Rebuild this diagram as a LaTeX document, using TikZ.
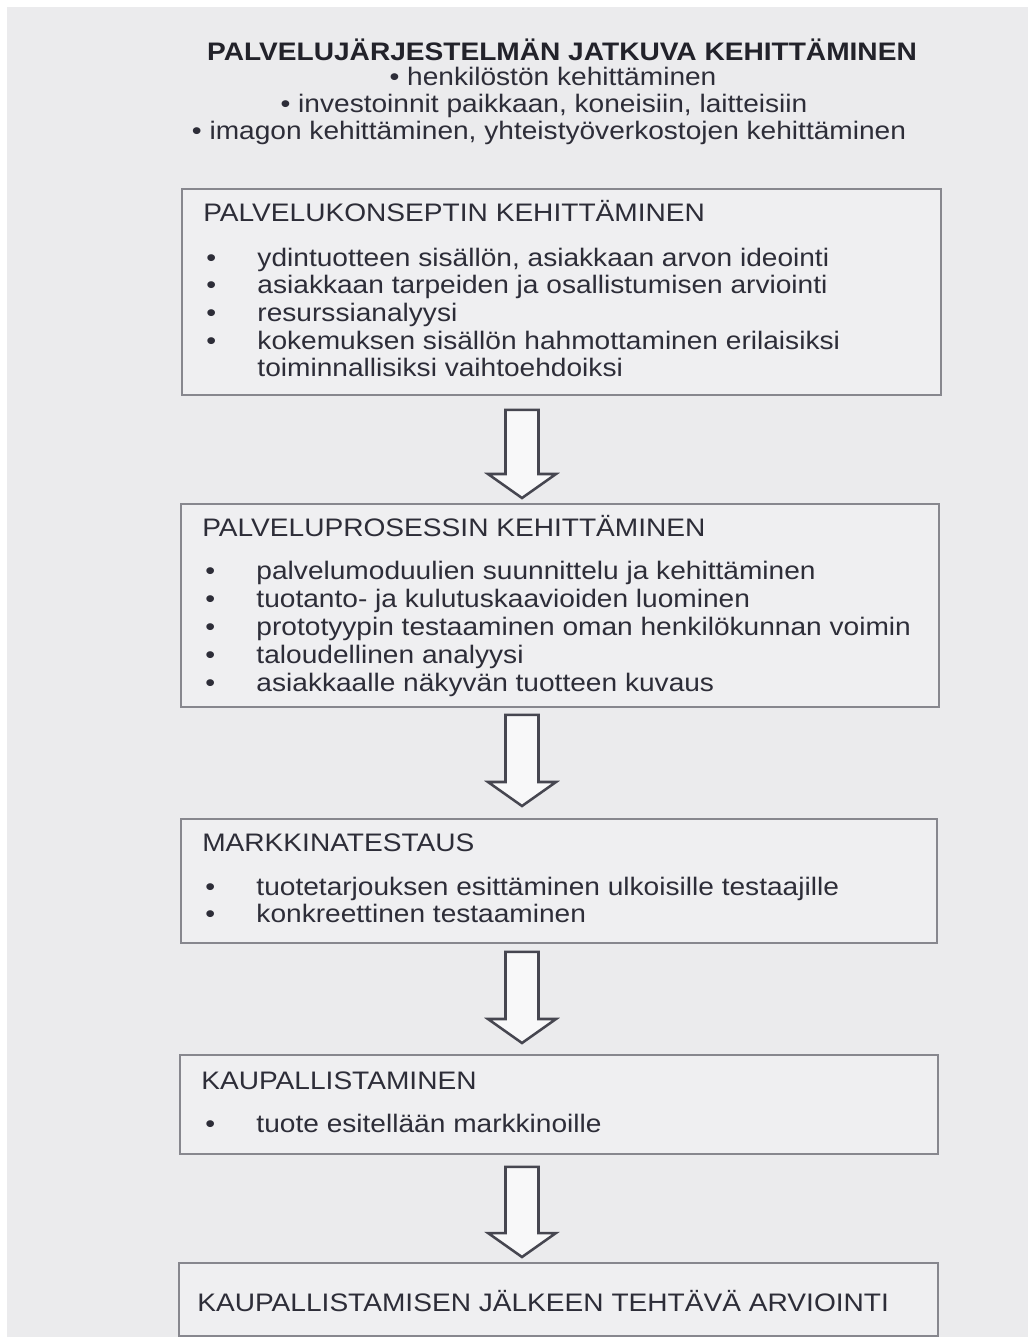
\documentclass[tikz,border=0pt]{standalone}
\usepackage{fontspec}
\setmainfont{Liberation Sans}[FakeStretch=1.11]
\usetikzlibrary{calc}
\definecolor{paper}{RGB}{235,235,237}
\definecolor{ink}{RGB}{45,45,56}
\definecolor{headink}{RGB}{34,34,42}
\definecolor{frame}{RGB}{135,135,142}
\definecolor{arrowink}{RGB}{70,70,80}
\def\px{0.025cm}
\newcommand\blt{\makebox[1.28cm][l]{\textbullet}}
\newcommand\nblt{\hspace*{1.28cm}}

\begin{document}
\begin{tikzpicture}[x=\px, y=-\px, font=\fontsize{18}{21}\selectfont, text=ink,
  stagebox/.style={draw=frame, line width=1.3pt, fill=paper!80!white, inner sep=0pt, anchor=north west},
  stagetitle/.style={anchor=base west, inner sep=0pt},
  stageitem/.style={anchor=base west, inner sep=0pt},
  headline/.style={anchor=base, inner sep=0pt},
  hollowarrow/.style={draw=arrowink, line width=1.8pt, fill=paper!35!white, line join=miter}]
\useasboundingbox (0,0) rectangle (1028,1337);
\fill[white] (0,0) rectangle (1028,1337);
\fill[paper] (7,7) rectangle (1028,1337);

% heading above the boxes
\node[headline, font=\fontsize{18}{21}\selectfont\bfseries, text=headink] (system) at (562,60.5) {PALVELUJÄRJESTELMÄN JATKUVA KEHITTÄMINEN};
\node[headline] (system-1) at (553,85) {• henkilöstön kehittäminen};
\node[headline] (system-2) at (544,112) {• investoinnit paikkaan, koneisiin, laitteisiin};
\node[headline] (system-3) at (549,139) {• imagon kehittäminen, yhteistyöverkostojen kehittäminen};

% stage boxes
\node[stagebox, minimum width=759*\px, minimum height=206*\px] (concept) at (181,188) {};
\node[stagebox, minimum width=758*\px, minimum height=203*\px] (process) at (180,503) {};
\node[stagebox, minimum width=756*\px, minimum height=124*\px] (market) at (180,818) {};
\node[stagebox, minimum width=758*\px, minimum height=99*\px] (launch) at (179,1054) {};
\node[stagebox, minimum width=759*\px, minimum height=73*\px] (review) at (178,1262) {};

\node[stagetitle] (concept-t) at ($(concept.north west)+(22,33)$) {PALVELUKONSEPTIN KEHITTÄMINEN};
\foreach \txt [count=\i] in {
  {\blt ydintuotteen sisällön, asiakkaan arvon ideointi},
  {\blt asiakkaan tarpeiden ja osallistumisen arviointi},
  {\blt resurssianalyysi},
  {\blt kokemuksen sisällön hahmottaminen erilaisiksi},
  {\nblt toiminnallisiksi vaihtoehdoiksi}%
} \node[stageitem] (concept-\i) at ($(concept.north west)+(25,{78+(\i-1)*27.7})$) {\txt};

\node[stagetitle] (process-t) at ($(process.north west)+(22,33)$) {PALVELUPROSESSIN KEHITTÄMINEN};
\foreach \txt [count=\i] in {
  {\blt palvelumoduulien suunnittelu ja kehittäminen},
  {\blt tuotanto- ja kulutuskaavioiden luominen},
  {\blt prototyypin testaaminen oman henkilökunnan voimin},
  {\blt taloudellinen analyysi},
  {\blt asiakkaalle näkyvän tuotteen kuvaus}%
} \node[stageitem] (process-\i) at ($(process.north west)+(25,{76.5+(\i-1)*28})$) {\txt};

\node[stagetitle] (market-t) at ($(market.north west)+(22,33)$) {MARKKINATESTAUS};
\foreach \txt [count=\i] in {
  {\blt tuotetarjouksen esittäminen ulkoisille testaajille},
  {\blt konkreettinen testaaminen}%
} \node[stageitem] (market-\i) at ($(market.north west)+(25,{77.5+(\i-1)*27})$) {\txt};

\node[stagetitle] (launch-t) at ($(launch.north west)+(22,35)$) {KAUPALLISTAMINEN};
\node[stageitem] (launch-1) at ($(launch.north west)+(26,78.5)$) {\blt tuote esitellään markkinoille};

\node[stagetitle] (review-t) at ($(review.north west)+(19,49)$) {KAUPALLISTAMISEN JÄLKEEN TEHTÄVÄ ARVIOINTI};

% hollow arrows between the stages: from / to / gap below / gap above
\coordinate (axis) at (522,0);
\foreach \a/\b/\gt/\gb in {concept/process/14/5, process/market/7/12, market/launch/8/11, launch/review/12/5} {
  \coordinate (t) at ($(\a.south -| axis)+(0,\gt)$);
  \coordinate (h) at ($(\b.north -| axis)+(0,-\gb)$);
  \draw[hollowarrow] ($(t)+(-16.5,0)$) -- ($(t)+(16.5,0)$) -- ($(h)+(16.5,-24)$) -- ($(h)+(34,-24)$)
    -- (h) -- ($(h)+(-34,-24)$) -- ($(h)+(-16.5,-24)$) -- cycle;
}
\end{tikzpicture}
\end{document}
